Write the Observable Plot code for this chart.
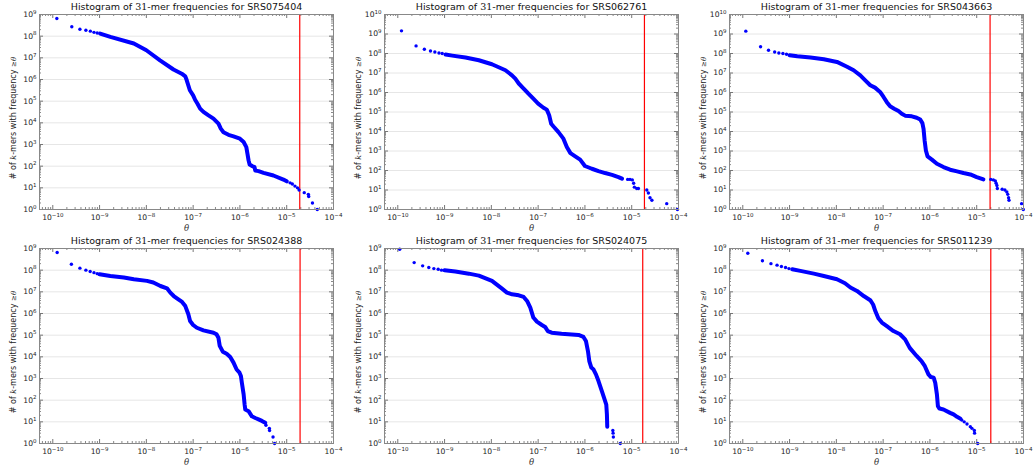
<!DOCTYPE html>
<html><head><meta charset="utf-8">
<script src="https://cdn.jsdelivr.net/npm/d3@7"></script>
<script src="https://cdn.jsdelivr.net/npm/@observablehq/plot@0.6"></script>
<style>
body{margin:0;background:#fff;}
#grid{display:flex;flex-wrap:wrap;width:1034px;height:468px;}
#grid svg{display:block;}
</style></head><body><div id="grid"></div><script>
// ---- axis ticks ----
const xTicks = [1e-10, 1e-9, 1e-8, 1e-7, 1e-6, 1e-5, 1e-4];
const yTicks9 = [1, 1e1, 1e2, 1e3, 1e4, 1e5, 1e6, 1e7, 1e8, 1e9];
const yTicks10 = [1, 1e1, 1e2, 1e3, 1e4, 1e5, 1e6, 1e7, 1e8, 1e9, 1e10];

// ---- panels ----
const sampleIds = ["SRS075404", "SRS062761", "SRS043663", "SRS024388", "SRS024075", "SRS011239"];
const yMax = [1e9, 1e10, 1e10, 1e9, 1e9, 1e9];
const cutoffs = [1.9e-5, 1.87e-5, 1.93e-5, 1.93e-5, 1.72e-5, 2.0e-5];

// SRS075404
const dotTheta1 = [1.22e-10, 2.55e-10, 3.8e-10, 5.1e-10, 6.35e-10, 7.6e-10, 8.9e-10,
  1.18e-5, 1.32e-5, 1.5e-5, 1.7e-5, 1.84e-5, 2.37e-5, 2.9e-5, 2.95e-5, 3.55e-5, 4.5e-5];
const dotCount1 = [6.5e8, 2.7e8, 2.1e8, 1.87e8, 1.7e8, 1.5e8, 1.41e8,
  17, 15, 12, 10, 8, 6, 5, 4, 2, 1];
const curveTheta1 = [1.03e-9, 1.7e-9, 5.4e-9, 1.0e-8, 1.96e-8, 3.8e-8, 5.7e-8, 6.8e-8, 7.3e-8, 8.5e-8,
  1.0e-7, 1.1e-7, 1.24e-7, 1.41e-7, 1.66e-7, 2.13e-7, 2.72e-7, 3.48e-7, 3.9e-7, 4.45e-7, 5.7e-7, 7.3e-7,
  1.0e-6, 1.2e-6, 1.37e-6, 1.45e-6, 1.53e-6, 1.61e-6, 1.86e-6, 2.05e-6, 2.13e-6, 2.5e-6, 3.2e-6, 5.2e-6, 8.5e-6, 1.0e-5];
const curveCount1 = [1.32e8, 9.3e7, 4.6e7, 2.24e7, 7.7e6, 2.9e6, 1.86e6, 1.4e6, 9.2e5, 3.2e5,
  1.86e5, 1.17e5, 7.6e4, 4.5e4, 3.2e4, 2.2e4, 1.56e4, 9.2e3, 5.4e3, 3.7e3, 2.8e3, 2.37e3,
  1.85e3, 1.3e3, 7.6e2, 3.7e2, 1.85e2, 1.2e2, 100, 90, 63, 59, 49, 37, 24, 20];

// SRS062761
const dotTheta2 = [1.2e-10, 2.46e-10, 3.7e-10, 5.0e-10, 6.2e-10, 7.6e-10, 8.9e-10,
  8.2e-6, 9.2e-6, 1.03e-5, 1.1e-5, 1.14e-5, 1.28e-5, 1.39e-5, 2.1e-5, 2.27e-5, 2.46e-5, 2.7e-5, 5.6e-5, 9.5e-5];
const dotCount2 = [1.45e9, 2.45e8, 1.66e8, 1.35e8, 1.2e8, 1.07e8, 1.0e8,
  35, 35, 33, 22, 14, 12, 12, 10, 7, 4, 3, 2, 1];
const curveTheta2 = [1.05e-9, 1.46e-9, 2.8e-9, 5.4e-9, 1.03e-8, 2.0e-8, 2.76e-8, 3.25e-8, 3.85e-8, 4.9e-8, 6.2e-8, 7.9e-8,
  1.0e-7, 1.3e-7, 1.53e-7, 1.72e-7, 1.9e-7, 2.13e-7, 2.72e-7, 3.47e-7, 4.1e-7, 4.9e-7, 6.2e-7, 7.9e-7,
  1.0e-6, 1.41e-6, 1.95e-6, 2.7e-6, 3.8e-6, 5.2e-6, 6.2e-6];
const curveCount2 = [8.9e7, 7.8e7, 6.2e7, 4.5e7, 2.8e7, 1.38e7, 7.6e6, 5.1e6, 2.9e6, 1.6e6, 8.7e5, 4.8e5,
  2.7e5, 1.66e5, 1.32e5, 6.8e4, 2.5e4, 1.8e4, 9.3e3, 4.3e3, 1.6e3, 7.8e2, 5.3e2, 3.6e2,
  1.7e2, 1.23e2, 93, 74, 60, 46, 38];

// SRS043663
const dotTheta3 = [1.16e-10, 2.4e-10, 3.55e-10, 4.8e-10, 5.9e-10, 7.2e-10, 8.6e-10,
  2.0e-5, 2.27e-5, 2.5e-5, 2.6e-5, 2.7e-5, 2.76e-5, 3.5e-5, 4.0e-5, 4.4e-5, 4.6e-5, 4.8e-5, 4.9e-5, 9.1e-5, 9.9e-5];
const dotCount3 = [1.4e9, 2.2e8, 1.48e8, 1.2e8, 1.07e8, 1.0e8, 9.2e7,
  35, 33, 29, 22, 17, 12, 11, 10, 8, 6, 4, 3, 2, 1];
const curveTheta3 = [1.0e-9, 1.46e-9, 2.8e-9, 5.4e-9, 1.03e-8, 1.69e-8, 2.34e-8, 3.25e-8, 4.15e-8, 5.3e-8, 6.7e-8, 8.6e-8,
  1.02e-7, 1.2e-7, 1.41e-7, 1.72e-7, 2.13e-7, 2.5e-7, 2.95e-7, 4.1e-7, 5.2e-7, 6.2e-7, 6.9e-7, 7.3e-7, 7.7e-7, 8.2e-7, 8.9e-7,
  1.1e-6, 1.41e-6, 1.95e-6, 2.7e-6, 3.8e-6, 5.2e-6, 7.3e-6, 1.0e-5, 1.39e-5];
const curveCount3 = [8.2e7, 7.2e7, 6.2e7, 5.1e7, 3.7e7, 2.1e7, 1.38e7, 7.6e6, 4.2e6, 2.35e6, 1.78e6, 1.07e6,
  5.9e5, 3.2e5, 1.95e5, 1.48e5, 1.12e5, 8.2e4, 6.5e4, 6.0e4, 5.1e4, 4.1e4, 2.7e4, 1.38e4, 3.5e3, 1.07e3, 5.3e2,
  3.6e2, 2.2e2, 1.5e2, 1.1e2, 90, 74, 63, 46, 35];

// SRS024388
const dotTheta4 = [1.24e-10, 2.5e-10, 3.8e-10, 5.1e-10, 6.3e-10, 7.6e-10, 8.9e-10,
  3.6e-6, 4.25e-6, 4.3e-6, 5.1e-6, 5.5e-6];
const dotCount4 = [6.5e8, 1.87e8, 1.24e8, 1.0e8, 8.7e7, 7.7e7, 6.9e7,
  7, 5, 4, 2, 1];
const curveTheta4 = [1.0e-9, 1.7e-9, 3.3e-9, 5.4e-9, 1.03e-8, 1.41e-8, 2.0e-8, 2.76e-8, 3.25e-8, 3.85e-8, 4.5e-8, 5.8e-8, 6.8e-8, 7.9e-8, 8.6e-8,
  1.0e-7, 1.2e-7, 1.66e-7, 2.72e-7, 3.16e-7, 3.47e-7, 3.7e-7, 4.3e-7, 5.2e-7, 6.2e-7, 7.3e-7, 8.5e-7, 9.8e-7,
  1.05e-6, 1.1e-6, 1.2e-6, 1.26e-6, 1.3e-6, 1.53e-6, 1.8e-6, 2.13e-6, 2.5e-6, 2.95e-6, 3.47e-6];
const curveCount4 = [6.5e7, 5.4e7, 4.6e7, 3.8e7, 3.2e7, 2.7e7, 1.86e7, 1.45e7, 9.2e6, 6.4e6, 5.0e6, 3.4e6, 2.2e6, 9.2e5, 4.5e5,
  2.95e5, 2.2e5, 1.67e5, 1.3e5, 1.1e5, 7.6e4, 3.2e4, 1.73e4, 1.39e4, 9.8e3, 5.4e3, 2.6e3, 1.85e3,
  1.3e3, 6.3e2, 1.85e2, 63, 37, 31, 18, 15, 13, 11, 9];

// SRS024075
const dotTheta5 = [1.1e-10, 2.24e-10, 3.4e-10, 4.6e-10, 5.9e-10, 7.3e-10, 8.6e-10,
  3.95e-6, 4.0e-6, 4.05e-6, 5.7e-6];
const dotCount5 = [9.3e8, 2.24e8, 1.58e8, 1.32e8, 1.18e8, 1.1e8, 1.0e8,
  4, 3, 2, 1];
const curveTheta5 = [1.0e-9, 1.7e-9, 3.3e-9, 5.4e-9, 1.03e-8, 1.69e-8, 2.15e-8, 2.76e-8, 3.85e-8, 4.9e-8, 5.8e-8, 6.8e-8, 7.9e-8, 9.4e-8,
  1.2e-7, 1.41e-7, 1.6e-7, 1.95e-7, 3.16e-7, 7.3e-7, 9.3e-7,
  1.05e-6, 1.16e-6, 1.24e-6, 1.37e-6, 1.53e-6, 1.72e-6, 1.95e-6, 2.3e-6, 2.63e-6, 2.86e-6, 2.95e-6, 3.0e-6];
const curveCount5 = [9.8e7, 8.7e7, 6.9e7, 5.6e7, 3.2e7, 1.4e7, 9.2e6, 7.7e6, 6.9e6, 5.8e6, 3.8e6, 1.86e6, 6.5e5, 4.2e5,
  2.95e5, 2.4e5, 1.55e5, 1.3e5, 1.17e5, 1.02e5, 8.3e4,
  5.4e4, 1.85e4, 6.4e3, 3.2e3, 2.6e3, 1.55e3, 7.6e2, 2.6e2, 1.08e2, 63, 22, 6];

// SRS011239
const dotTheta6 = [1.28e-10, 2.63e-10, 4.0e-10, 5.4e-10, 6.7e-10, 8.2e-10, 9.7e-10,
  4.8e-6, 5.4e-6, 6.2e-6, 7.3e-6, 7.9e-6, 8.9e-6, 9.0e-6, 1.05e-5];
const dotCount6 = [6.0e8, 2.7e8, 2.0e8, 1.7e8, 1.48e8, 1.32e8, 1.18e8,
  12, 10, 8, 6, 5, 4, 3, 1];
const curveTheta6 = [1.14e-9, 1.7e-9, 3.3e-9, 5.4e-9, 1.03e-8, 1.53e-8, 2.0e-8, 2.76e-8, 3.85e-8, 5.3e-8, 6.1e-8, 6.8e-8, 7.9e-8, 9.4e-8,
  1.2e-7, 1.66e-7, 2.3e-7, 2.95e-7, 3.7e-7, 5.2e-7, 6.6e-7, 7.8e-7, 9.3e-7,
  1.05e-6, 1.2e-6, 1.3e-6, 1.41e-6, 1.48e-6, 1.6e-6, 1.95e-6, 2.7e-6, 3.2e-6, 3.8e-6, 4.5e-6];
const curveCount6 = [1.1e8, 9.3e7, 6.9e7, 5.4e7, 3.8e7, 2.5e7, 1.58e7, 1.1e7, 6.4e6, 4.1e6, 2.6e6, 1.3e6, 6.0e5, 3.8e5,
  2.6e5, 1.55e5, 1.1e5, 6.4e4, 2.6e4, 1.1e4, 6.4e3, 3.7e3, 1.55e3,
  1.17e3, 1.1e3, 6.3e2, 1.85e2, 53, 41, 37, 26, 22, 17, 14];

const dotThetas = [dotTheta1, dotTheta2, dotTheta3, dotTheta4, dotTheta5, dotTheta6];
const dotCounts = [dotCount1, dotCount2, dotCount3, dotCount4, dotCount5, dotCount6];
const curveThetas = [curveTheta1, curveTheta2, curveTheta3, curveTheta4, curveTheta5, curveTheta6];
const curveCounts = [curveCount1, curveCount2, curveCount3, curveCount4, curveCount5, curveCount6];

// tick label: "10^e" -> rebuilt below as "10" + raised exponent
const fmt = d => "10^" + String(Math.round(Math.log10(d))).replace("-", "\u2212");

const NS = "http://www.w3.org/2000/svg";
function fillTspans(textEl, parts) {
  while (textEl.firstChild) textEl.removeChild(textEl.firstChild);
  for (const [s, attrs] of parts) {
    const t = document.createElementNS(NS, "tspan");
    t.textContent = s;
    if (attrs) for (const k in attrs) t.setAttribute(k, attrs[k]);
    textEl.appendChild(t);
  }
}

const grid = document.getElementById("grid");
const widths = [345, 345, 344, 345, 345, 344];
const PW = 294, PH = 195;

sampleIds.forEach((id, i) => {
  const W = widths[i];
  const yT = yMax[i] === 1e10 ? yTicks10 : yTicks9;
  const xMinor = [1e-11, ...xTicks].flatMap(d => [2,3,4,5,6,7,8,9].map(m => m * d)).filter(v => v > 5.2e-11 && v < 1e-4);
  const yMinor = yT.slice(0, -1).flatMap(d => [2,3,4,5,6,7,8,9].map(m => m * d));
  const dots = dotThetas[i].map((t, j) => ({t, c: dotCounts[i][j]}));
  const curve = curveThetas[i].map((t, j) => ({t, c: curveCounts[i][j]}));
  const title = "Histogram of 31-mer frequencies for " + id;
  const ylab = "# of k-mers with frequency \u2265\u03B8";
  const svg = Plot.plot({
    width: W, height: 234,
    marginLeft: 39, marginRight: W - 39 - PW, marginTop: 14, marginBottom: 25,
    style: {fontFamily: "'DejaVu Sans', sans-serif", fontSize: "7.6px", color: "#1a1a1a", background: "#fff", overflow: "visible"},
    x: {type: "log", domain: [5.2e-11, 1e-4], ticks: xTicks, tickFormat: fmt, tickSize: 0, tickPadding: 5, label: null},
    y: {type: "log", domain: [1, yMax[i]], ticks: yT, tickFormat: fmt, tickSize: 0, tickPadding: 3, label: null},
    marks: [
      Plot.ruleY(yT.slice(1, -1), {y: d => d, stroke: "#e6e6e6", strokeWidth: 1}),
      Plot.tickX(xTicks, {x: d => d, insetTop: PH - 4, stroke: "#777"}),
      Plot.tickX(xTicks, {x: d => d, insetBottom: PH - 4, stroke: "#777"}),
      Plot.tickX(xMinor, {x: d => d, insetTop: PH - 2, stroke: "#888"}),
      Plot.tickX(xMinor, {x: d => d, insetBottom: PH - 2, stroke: "#888"}),
      Plot.tickY(yT, {y: d => d, insetRight: PW - 4, stroke: "#777"}),
      Plot.tickY(yT, {y: d => d, insetLeft: PW - 4, stroke: "#777"}),
      Plot.tickY(yMinor, {y: d => d, insetRight: PW - 2, stroke: "#888"}),
      Plot.tickY(yMinor, {y: d => d, insetLeft: PW - 2, stroke: "#888"}),
      Plot.ruleX([cutoffs[i]], {x: d => d, stroke: "#ff0000", strokeWidth: 1.2}),
      Plot.line(curve, {x: "t", y: "c", stroke: "#0000ff", strokeWidth: 4, strokeLinejoin: "round", strokeLinecap: "round"}),
      Plot.dot(dots, {x: "t", y: "c", r: 1.7, fill: "#0000ff", stroke: "none"}),
      Plot.frame({stroke: "#888", strokeWidth: 1}),
      Plot.text([title], {frameAnchor: "top", dy: -7.5, lineAnchor: "middle", textAnchor: "middle", fontSize: 9.5, fill: "#111"}),
      Plot.text([ylab], {frameAnchor: "left", dx: -26, dy: 6, rotate: -90, lineAnchor: "middle", textAnchor: "middle", fontSize: 8, fill: "#222"}),
      Plot.text(["\u03B8"], {frameAnchor: "bottom", dy: 19, lineAnchor: "middle", textAnchor: "middle", fontSize: 8.5, fill: "#333", fontStyle: "italic", fontFamily: "'DejaVu Serif', serif"})
    ]
  });
  svg.querySelectorAll("text").forEach(el => {
    const s = el.textContent;
    if (s === title) {
      fillTspans(el, [["Histogram of ", null], ["31", {"font-family": "'DejaVu Serif', serif"}], ["-mer frequencies for " + id, null]]);
    } else if (s === ylab) {
      fillTspans(el, [["# of ", null], ["k", {"font-family": "'DejaVu Serif', serif", "font-style": "italic"}],
        ["-mers with frequency ", null], ["\u2265", {"font-family": "'DejaVu Serif', serif", "font-size": "7px"}],
        ["\u03B8", {"font-family": "'DejaVu Serif', serif", "font-style": "italic", "font-size": "7px"}]]);
    } else if (/^10\^/.test(s)) {
      fillTspans(el, [["10", null], [s.slice(3), {"font-size": "5.5px", "dy": "-0.6em"}]]);
    }
  });
  grid.appendChild(svg);
});
</script></body></html>
